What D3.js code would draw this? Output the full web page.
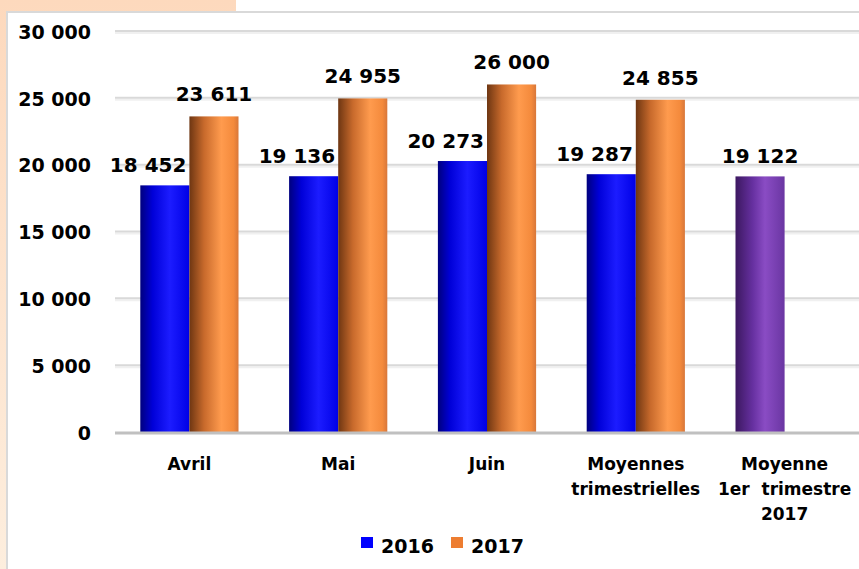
<!DOCTYPE html>
<html>
<head>
<meta charset="utf-8">
<script src="https://cdn.jsdelivr.net/npm/d3@7"></script>
<style>
    body { margin: 0; background: #fff; }
    svg { display: block; font-family: "DejaVu Sans", sans-serif; font-weight: bold; }
</style>
</head>
<body>
<div id="chart"></div>
<script>
// données du graphique
const categories = ['Avril', 'Mai', 'Juin', 'Moyennes trimestrielles', 'Moyenne 1er trimestre 2017'];
const categoryLines = [['Avril'], ['Mai'], ['Juin'], ['Moyennes', 'trimestrielles'], ['Moyenne', '1er  trimestre', '2017']];
const values2016 = [18452, 19136, 20273, 19287, 19122];
const values2017 = [23611, 24955, 26000, 24855, null];
const series = ['2016', '2017'];
const yTicks = [0, 5000, 10000, 15000, 20000, 25000, 30000];

const width = 859, height = 569;
const margin = { top: 31, right: 0, bottom: 137, left: 115 };

const svg = d3.select('#chart').append('svg')
    .attr('width', width)
    .attr('height', height);

const defs = svg.append('defs');
function gradient(id, stops) {
    const g = defs.append('linearGradient').attr('id', id)
        .attr('x1', 0).attr('x2', 1).attr('y1', 0).attr('y2', 0);
    stops.forEach(s => g.append('stop').attr('offset', s[0]).attr('stop-color', s[1]));
}
gradient('g-blue', [[0, '#00007e'], [0.25, '#0000d8'], [0.6, '#1c1cff'], [1, '#0000e6']]);
gradient('g-orange', [[0, '#6e3612'], [0.3, '#c86a2c'], [0.65, '#ff9b4e'], [0.9, '#f48a3c'], [1, '#d8773a']]);
gradient('g-purple', [[0, '#3c1860'], [0.35, '#6630a0'], [0.6, '#8a4cc4'], [1, '#6a36a2']]);
gradient('g-peach', [[0, '#fdd9bd'], [1, '#fdeede']]);
defs.select('#g-peach').attr('x2', 0).attr('y2', 1);

// fond pêche et cadre
svg.append('rect').attr('x', 0).attr('y', 0).attr('width', 236).attr('height', height)
    .attr('fill', 'url(#g-peach)');
svg.append('rect').attr('x', 7).attr('y', 12).attr('width', width).attr('height', height)
    .attr('fill', '#fff').attr('stroke', '#d9d9d9').attr('stroke-width', 2);

const x = d3.scaleBand()
    .domain(categories)
    .range([margin.left, width - margin.right])
    .paddingInner(0.34)
    .paddingOuter(0.17);

const xSeries = d3.scaleBand().domain(series).range([0, x.bandwidth()]);

const y = d3.scaleLinear()
    .domain([0, 30000])
    .range([height - margin.bottom, margin.top]);

const fmt = v => d3.format(',')(v).replace(/,/g, ' ');

// grille
const grid = svg.append('g');
grid.selectAll('line.shadow')
    .data(yTicks.filter(d => d > 0))
    .enter().append('line')
    .attr('x1', margin.left).attr('x2', width)
    .attr('y1', d => y(d) + 2).attr('y2', d => y(d) + 2)
    .attr('stroke', '#f0f0f0').attr('stroke-width', 2);
grid.selectAll('line.main')
    .data(yTicks.filter(d => d > 0))
    .enter().append('line')
    .attr('x1', margin.left).attr('x2', width)
    .attr('y1', d => y(d)).attr('y2', d => y(d))
    .attr('stroke', '#d9d9d9').attr('stroke-width', 2);

// axe Y
const yAxis = svg.append('g')
    .attr('transform', `translate(${margin.left - 21},0)`)
    .call(d3.axisLeft(y).tickValues(yTicks).tickFormat(fmt).tickSize(0));
yAxis.select('.domain').remove();
yAxis.selectAll('text')
    .attr('font-size', 19).attr('font-family', '"DejaVu Sans", sans-serif')
    .attr('font-weight', 'bold').attr('fill', '#000').attr('dy', '0.38em');

// barres
const groups = svg.append('g').selectAll('g')
    .data(categories)
    .enter().append('g')
    .attr('transform', d => `translate(${x(d)},0)`);

groups.append('rect')
    .attr('x', xSeries('2016'))
    .attr('y', (d, i) => y(values2016[i]))
    .attr('width', xSeries.bandwidth())
    .attr('height', (d, i) => y(0) - y(values2016[i]))
    .attr('fill', (d, i) => values2017[i] == null ? 'url(#g-purple)' : 'url(#g-blue)');

groups.filter((d, i) => values2017[i] != null).append('rect')
    .attr('x', xSeries('2017'))
    .attr('y', d => y(values2017[categories.indexOf(d)]))
    .attr('width', xSeries.bandwidth())
    .attr('height', d => y(0) - y(values2017[categories.indexOf(d)]))
    .attr('fill', 'url(#g-orange)');

// étiquettes de valeurs
groups.append('text')
    .attr('x', (d, i) => values2017[i] == null
        ? xSeries('2016') + xSeries.bandwidth() / 2
        : xSeries('2016') + xSeries.bandwidth() - 3)
    .attr('y', (d, i) => y(values2016[i]) - 13)
    .attr('text-anchor', (d, i) => values2017[i] == null ? 'middle' : 'end')
    .attr('font-size', 20)
    .text((d, i) => fmt(values2016[i]));

groups.filter((d, i) => values2017[i] != null).append('text')
    .attr('x', xSeries('2017') + xSeries.bandwidth() / 2)
    .attr('y', d => y(values2017[categories.indexOf(d)]) - 15)
    .attr('text-anchor', 'middle')
    .attr('font-size', 20)
    .text(d => fmt(values2017[categories.indexOf(d)]));

// ligne de base
svg.append('line')
    .attr('x1', margin.left).attr('x2', width)
    .attr('y1', y(0) + 1).attr('y2', y(0) + 1)
    .attr('stroke', '#c0c0c0').attr('stroke-width', 3);

// étiquettes de catégories
const xLabels = svg.append('g').selectAll('text')
    .data(categories)
    .enter().append('text')
    .attr('x', d => x(d) + x.bandwidth() / 2)
    .attr('y', 470)
    .attr('text-anchor', 'middle')
    .attr('font-size', 17);
xLabels.selectAll('tspan')
    .data((d, i) => categoryLines[i])
    .enter().append('tspan')
    .attr('x', function () { return this.parentNode.getAttribute('x'); })
    .attr('dy', (d, i) => i === 0 ? 0 : 25)
    .attr('xml:space', 'preserve')
    .text(d => d);

// légende
const legendColors = { '2016': '#0000ff', '2017': '#ed7d31' };
const legend = svg.append('g').attr('transform', 'translate(361,537)');
const items = legend.selectAll('g')
    .data(series)
    .enter().append('g')
    .attr('transform', (d, i) => `translate(${i * 90},0)`);
items.append('rect').attr('width', 12).attr('height', 11).attr('fill', d => legendColors[d]);
items.append('text').attr('x', 20).attr('y', 16).attr('font-size', 19).text(d => d);
</script>
</body>
</html>
